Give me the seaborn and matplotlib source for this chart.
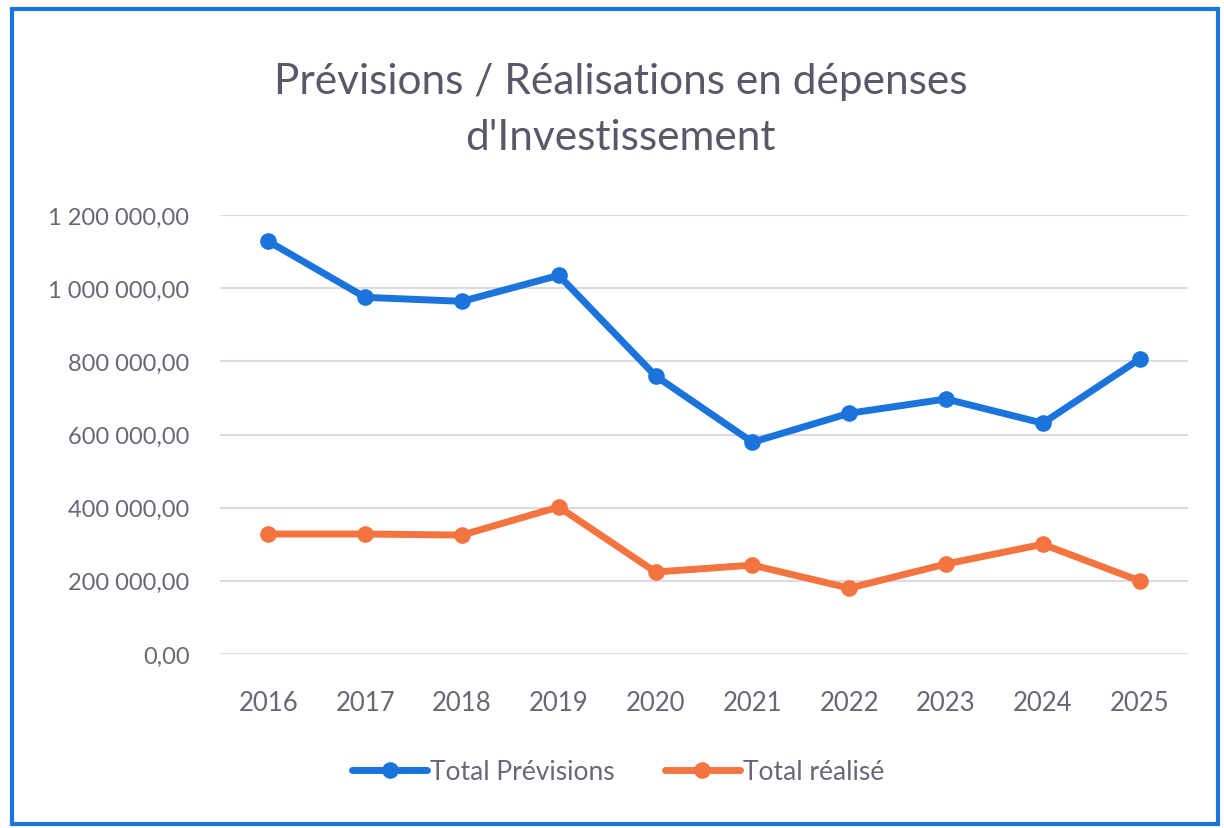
import matplotlib
matplotlib.use("Agg")
import matplotlib.pyplot as plt
import seaborn as sns
import pandas as pd
from matplotlib.patches import Rectangle
from matplotlib.lines import Line2D
from matplotlib.ticker import FuncFormatter

years = ["2016", "2017", "2018", "2019", "2020", "2021", "2022", "2023", "2024", "2025"]
previsions = [1128000, 975000, 964000, 1035000, 760000, 579000, 658000, 697000, 631000, 806000]
realise = [328000, 328000, 325000, 402000, 224000, 243000, 180000, 246000, 300000, 200000]
series_names = ["Total Prévisions", "Total réalisé"]
title = "Prévisions / Réalisations en dépenses\nd'Investissement"

sns.set_theme(style="white")
plt.rcParams["font.family"] = ["Lato", "DejaVu Sans"]

df = pd.DataFrame({
    "Année": years * 2,
    "Montant": previsions + realise,
    "Série": [series_names[0]] * len(years) + [series_names[1]] * len(years),
})

colors = {series_names[0]: "#1a74dc", series_names[1]: "#f47440"}
text_color = "#6b6577"

fig = plt.figure(figsize=(12.24, 8.29), dpi=100)
ax = fig.add_axes([220 / 1224, 1 - 655 / 829, (1188 - 220) / 1224, (655 - 216) / 829])

sns.lineplot(data=df, x="Année", y="Montant", hue="Série", palette=colors,
             marker="o", markersize=12, linewidth=5, markeredgewidth=0,
             sort=False, ax=ax, legend=False)

ax.set_xlim(-0.5, len(years) - 0.5)
ax.set_ylim(0, 1200000)
ax.set_yticks([0, 200000, 400000, 600000, 800000, 1000000, 1200000])
ax.yaxis.set_major_formatter(FuncFormatter(
    lambda v, p: f"{v:,.2f}".replace(",", " ").replace(".", ",")))
ax.grid(axis="y", color="#dcdae8", linewidth=1.5)
ax.set_axisbelow(True)
for s in ax.spines.values():
    s.set_visible(False)
ax.tick_params(axis="both", length=0, colors=text_color)
ax.tick_params(axis="y", pad=22, labelsize=17)
ax.tick_params(axis="x", pad=26, labelsize=18.5)
ax.set_xlabel("")
ax.set_ylabel("")

fig.text(0.507, 1 - 110 / 829, title, ha="center", va="center",
         fontsize=30.5, color="#5c5668", linespacing=1.6)

handles = [Line2D([0], [0], color=colors[n], linewidth=5, marker="o",
                  markersize=12, markeredgewidth=0) for n in series_names]
fig.legend(handles, series_names, loc="center", bbox_to_anchor=(0.505, 1 - 773 / 829),
           ncol=2, frameon=False, fontsize=19, labelcolor=text_color,
           handlelength=2.85, handletextpad=0.1, columnspacing=1.9)

fig.patches.append(Rectangle((12 / 1224, 4 / 829), (1218 - 12) / 1224, (819 - 4) / 829,
                             transform=fig.transFigure, fill=False,
                             edgecolor="#1a74dc", linewidth=3))

fig.savefig("out.png", dpi=100)
